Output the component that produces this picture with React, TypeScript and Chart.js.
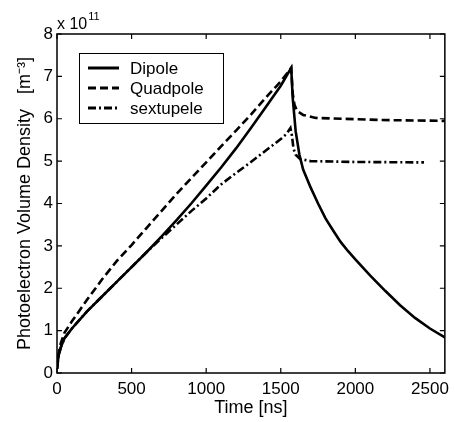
import React, { useEffect, useRef } from "react";
import { Chart, registerables } from "chart.js";

Chart.register(...registerables);

const xTickValues = [0, 500, 1000, 1500, 2000, 2500];
const yTickValues = [0, 1, 2, 3, 4, 5, 6, 7, 8];
const seriesNames = ["Dipole", "Quadpole", "sextupele"];

const dipoleTime = [0, 10, 25, 50, 100, 200, 300, 400, 500, 600, 700, 800, 900, 1000, 1100, 1200, 1300, 1400, 1500, 1570, 1580, 1600, 1625, 1650, 1700, 1750, 1800, 1850, 1900, 1950, 2000, 2100, 2200, 2300, 2400, 2500, 2600];
const dipoleValue = [0.1, 0.4, 0.6, 0.82, 1.05, 1.45, 1.8, 2.15, 2.5, 2.85, 3.22, 3.6, 4.0, 4.42, 4.85, 5.3, 5.78, 6.28, 6.78, 7.2, 6.5, 5.7, 5.15, 4.8, 4.38, 4.0, 3.65, 3.37, 3.1, 2.88, 2.68, 2.3, 1.94, 1.6, 1.3, 1.05, 0.84];

const quadTime = [0, 10, 25, 50, 100, 200, 300, 400, 500, 600, 700, 800, 900, 1000, 1100, 1200, 1300, 1400, 1500, 1570, 1580, 1592, 1610, 1650, 1735, 2000, 2175, 2600];
const quadValue = [0.1, 0.45, 0.7, 0.95, 1.22, 1.72, 2.2, 2.64, 3.02, 3.42, 3.82, 4.22, 4.6, 4.97, 5.35, 5.72, 6.1, 6.5, 6.88, 7.2, 6.6, 6.33, 6.18, 6.09, 6.02, 5.99, 5.97, 5.95];

const sextTime = [0, 10, 25, 50, 100, 200, 300, 400, 500, 600, 700, 800, 900, 1000, 1100, 1200, 1300, 1400, 1500, 1540, 1565, 1575, 1585, 1600, 1630, 1700, 2000, 2460];
const sextValue = [0.1, 0.4, 0.6, 0.82, 1.05, 1.45, 1.8, 2.15, 2.5, 2.85, 3.18, 3.5, 3.82, 4.12, 4.45, 4.72, 4.98, 5.25, 5.52, 5.65, 5.78, 5.6, 5.3, 5.15, 5.05, 5.0, 4.98, 4.97];

const FONT = "'Liberation Sans', Arial, Helvetica, sans-serif";
const dashes: number[][] = [[], [8, 4], [8, 3, 2, 3]];

const toPoints = (t: number[], v: number[]) => t.map((x, i) => ({ x, y: v[i] }));

const framePlugin = {
  id: "frameTicks",
  afterDatasetsDraw(chart: any) {
    const { ctx, chartArea: a, scales } = chart;
    const xs = scales.x;
    const ys = scales.y;
    ctx.save();
    ctx.strokeStyle = "#000";
    ctx.lineWidth = 1.5;
    ctx.strokeRect(a.left, a.top, a.right - a.left, a.bottom - a.top);
    const tl = 5;
    ctx.lineWidth = 1.2;
    ctx.beginPath();
    xTickValues.forEach((v) => {
      const p = xs.getPixelForValue(v);
      ctx.moveTo(p, a.bottom);
      ctx.lineTo(p, a.bottom - tl);
      ctx.moveTo(p, a.top);
      ctx.lineTo(p, a.top + tl);
    });
    yTickValues.forEach((v) => {
      const p = ys.getPixelForValue(v);
      ctx.moveTo(a.left, p);
      ctx.lineTo(a.left + tl, p);
      ctx.moveTo(a.right, p);
      ctx.lineTo(a.right - tl, p);
    });
    ctx.stroke();

    // exponent label
    ctx.fillStyle = "#000";
    ctx.textBaseline = "alphabetic";
    ctx.textAlign = "left";
    ctx.font = `16px ${FONT}`;
    ctx.fillText("x 10", a.left, a.top - 5);
    const w = ctx.measureText("x 10").width;
    ctx.font = `11px ${FONT}`;
    ctx.fillText("11", a.left + w + 1, a.top - 14);

    // legend
    const bx = 79, by = 53, bw = 144, bh = 70;
    ctx.fillStyle = "#fff";
    ctx.fillRect(bx, by, bw, bh);
    ctx.lineWidth = 1;
    ctx.strokeStyle = "#000";
    ctx.strokeRect(bx + 0.5, by + 0.5, bw, bh);
    ctx.font = `17px ${FONT}`;
    ctx.textBaseline = "middle";
    seriesNames.forEach((name, i) => {
      const yy = 68 + i * 20;
      ctx.beginPath();
      ctx.setLineDash(dashes[i]);
      ctx.lineWidth = 3;
      ctx.moveTo(88, yy);
      ctx.lineTo(119, yy);
      ctx.stroke();
      ctx.setLineDash([]);
      ctx.fillStyle = "#000";
      ctx.fillText(name, 130, yy + 1);
    });
    ctx.restore();
  },
};

export default function App() {
  const ref = useRef<HTMLCanvasElement | null>(null);
  useEffect(() => {
    document.body.style.margin = "0";
    if (!ref.current) return;
    const sets = [toPoints(dipoleTime, dipoleValue), toPoints(quadTime, quadValue), toPoints(sextTime, sextValue)];
    const chart = new Chart(ref.current, {
      type: "line",
      data: {
        datasets: sets.map((d, i) => ({
          label: seriesNames[i],
          data: d,
          borderColor: "#000",
          backgroundColor: "#000",
          borderWidth: 2.6,
          borderDash: dashes[i],
          pointRadius: 0,
          tension: 0,
          fill: false,
        })),
      },
      options: {
        responsive: false,
        animation: false,
        layout: { padding: { left: 14, top: 34, right: 4, bottom: 3 } },
        plugins: { legend: { display: false }, tooltip: { enabled: false } },
        scales: {
          x: {
            type: "linear",
            min: 0,
            max: 2600,
            grid: { display: false, drawTicks: false },
            border: { display: false },
            afterBuildTicks: (s: any) => { s.ticks = xTickValues.map((value) => ({ value })); },
            ticks: {
              color: "#000",
              padding: 6,
              maxRotation: 0,
              autoSkip: false,
              callback: (v: any) => String(v),
              font: { family: FONT, size: 17 },
            },
            title: { display: true, text: "Time [ns]", color: "#000", font: { family: FONT, size: 18 }, padding: 0 },
            afterFit: (s: any) => { s.height = 46; },
          },
          y: {
            type: "linear",
            min: 0,
            max: 8,
            grid: { display: false, drawTicks: false },
            border: { display: false },
            afterBuildTicks: (s: any) => { s.ticks = yTickValues.map((value) => ({ value })); },
            ticks: {
              color: "#000",
              padding: 4,
              autoSkip: false,
              callback: (v: any) => String(v),
              font: { family: FONT, size: 17 },
            },
            title: {
              display: true,
              text: "Photoelectron Volume Density   [m⁻³]",
              color: "#000",
              font: { family: FONT, size: 18 },
              padding: 0,
            },
            afterFit: (s: any) => { s.width = 43; },
          },
        },
      },
      plugins: [framePlugin],
    });
    return () => chart.destroy();
  }, []);
  return (
    <div style={{ position: "absolute", left: 0, top: 0, width: 455, height: 422, background: "#fff" }}>
      <canvas ref={ref} width={455} height={422} style={{ width: 455, height: 422, display: "block" }} />
    </div>
  );
}
